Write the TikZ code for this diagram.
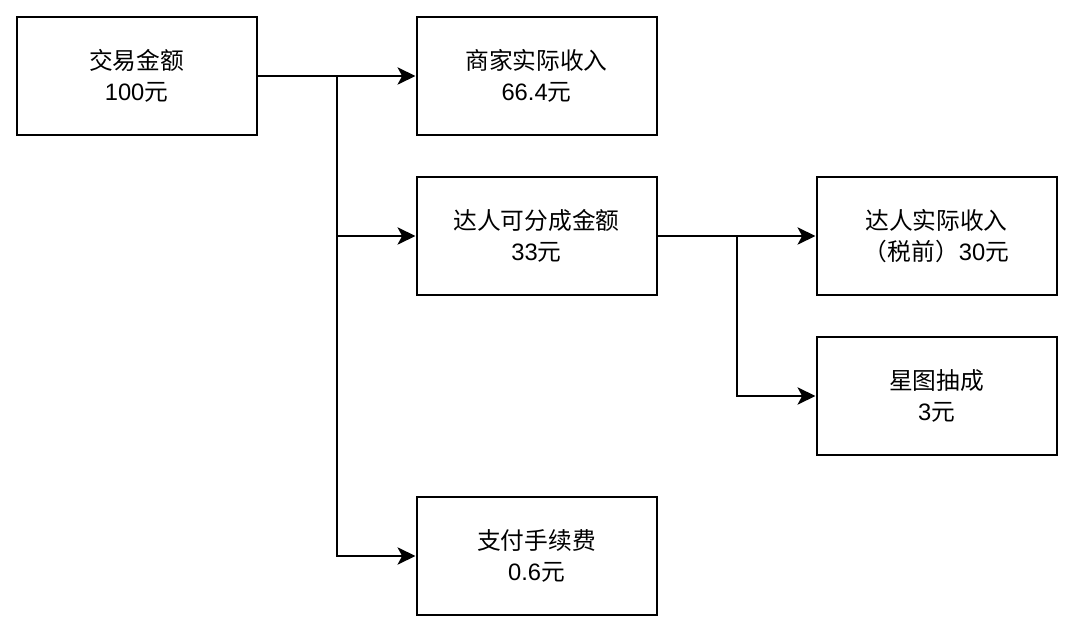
\documentclass[tikz,border=0pt]{standalone}
\usepackage{fontspec}
\setmainfont{Noto Sans CJK SC}
\newfontfamily\lat{Liberation Sans}
\usetikzlibrary{arrows.meta}
\begin{document}
\begin{tikzpicture}[x=0.75pt,y=-0.75pt,
  box/.style={draw=black,line width=1.5pt,fill=white,minimum width=180pt,minimum height=89pt,inner sep=0pt,align=center,font=\fontsize{17.8pt}{23.5pt}\selectfont},
  conn/.style={line width=1.5pt,-{Stealth[length=13.5pt,width=13pt,inset=3.5pt]}}]
\fill[white] (0,0) rectangle (1074,634);
\useasboundingbox (0,0) rectangle (1074,634);
\node[box] (A) at (136.5,76) {交易金额\\{\lat 100}元};
\node[box] (B) at (536.5,76) {商家实际收入\\{\lat 66.4}元};
\node[box] (C) at (536.5,236) {达人可分成金额\\{\lat 33}元};
\node[box] (D) at (936.5,236) {达人实际收入\\（税前）{\lat 30}元};
\node[box] (E) at (936.5,396) {星图抽成\\{\lat 3}元};
\node[box] (F) at (536.5,556) {支付手续费\\{\lat 0.6}元};
\coordinate (j1) at (337,76);
\coordinate (j2) at (737,236);
\draw[conn] (A.east) -- (B.west);
\draw[conn] (A.east) -- (j1) |- (C.west);
\draw[conn] (A.east) -- (j1) |- (F.west);
\draw[conn] (C.east) -- (D.west);
\draw[conn] (C.east) -- (j2) |- (E.west);
\end{tikzpicture}
\end{document}
